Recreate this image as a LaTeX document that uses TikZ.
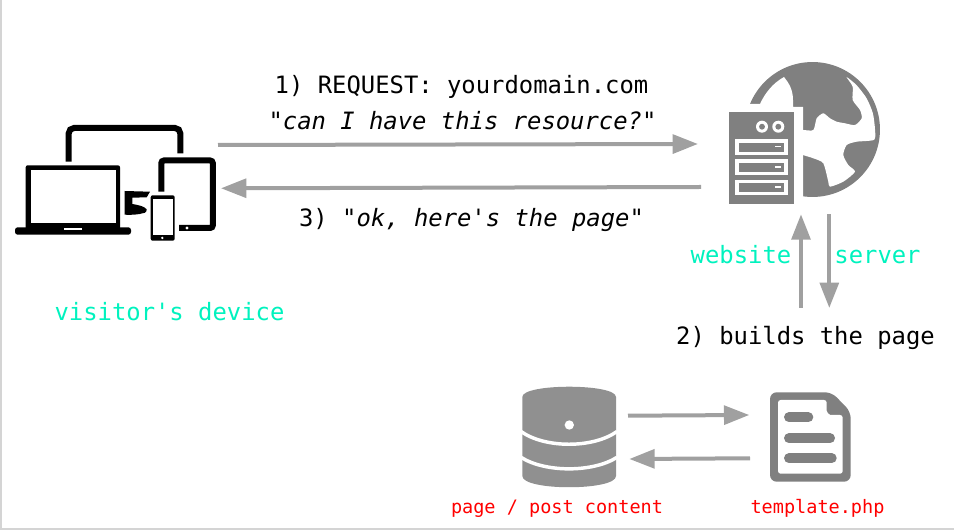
\documentclass[tikz,border=0pt]{standalone}
\usepackage{fontspec}
\setmonofont{DejaVu Sans Mono}
\usepackage{xcolor}
\usetikzlibrary{arrows.meta}
\definecolor{flowgray}{HTML}{A0A0A0}
\definecolor{icongray}{HTML}{808080}
\definecolor{dbgray}{HTML}{909090}
\definecolor{edgegray}{HTML}{D4D4D4}
\definecolor{tealtext}{HTML}{00F2BE}
\definecolor{redtext}{HTML}{FF0000}
\tikzset{
    flow/.style={draw=flowgray, fill=flowgray, line width=3pt, -{Triangle[length=19pt,width=14pt]}},
    label/.style={anchor=base, inner sep=0pt, font=\fontsize{17.9}{20}\selectfont\ttfamily},
    smalllabel/.style={anchor=base, inner sep=0pt, text=redtext, font=\fontsize{13.9}{16}\selectfont\ttfamily},
    bar/.style={draw=icongray, line width=7.5pt, line cap=round}
}

\begin{document}
\begin{tikzpicture}[x=0.75pt, y=-0.75pt]
    \useasboundingbox (0,0) rectangle (954,530);
    \fill[edgegray] (0,0) rectangle (2,530);
    \fill[edgegray] (0,528) rectangle (954,530);

    \draw[line width=4.5pt, rounded corners=4pt] (68.7,161.7) -- (68.7,128) -- (180.3,128) -- (180.3,153.3);
    \fill[rounded corners=1.5pt] (25.7,165.3) rectangle (120,230);
    \fill[white] (30.7,170) rectangle (115.7,223.3);
    \fill[rounded corners=2pt] (15,227.3) rectangle (131,234.7);
    \fill[white] (64.3,227.7) rectangle (81.7,230.3);
    \draw[line width=4.5pt, rounded corners=2pt] (161.3,191.7) -- (161.3,160.5) -- (212.8,160.5) -- (212.8,228) -- (179,228);
    \fill[white] (187,228) circle (1.3pt);
    \fill[rounded corners=1.5pt] (150.7,195.3) rectangle (174.7,240.7);
    \fill[white] (152.7,199) rectangle (173,235.3);
    \fill[white] (162.3,237.9) circle (1pt);
    \fill (124.7,191) -- (150,191.7) -- (146.7,197.3) -- (132.3,197.7) -- (132.3,204)
        .. controls (138,205) and (144,206) .. (146.7,209.3)
        .. controls (147,211) and (146,212) .. (145,212.7)
        .. controls (138,215) and (130,215) .. (124.7,214.7) -- cycle;

    \coordinate (globe) at (812.5,129.5);
    \fill[icongray] (globe) circle (50.6pt);
    \fill[white] plot[smooth cycle, tension=.4] coordinates {
        (846.5,77) (856.7,85.3) (866.6,98.3) (872.9,113.3) (875,129.5) (874.1,139.8)
        (856.7,141.7) (846.7,145) (843.3,155) (848.3,165) (855,171.7) (843.3,181.7)
        (830,186.7) (828.3,181.7) (823.3,163.3) (813.3,158.3) (802.7,155) (795,153)
        (795,130) (803.3,130) (813.3,130) (816.7,118.3) (823.3,113.3) (830,118.3)
        (836.7,121.7) (845,123.3) (855,125) (861.7,118.3) (860,110) (852.7,100) (852.7,86.7)};
    \fill[white] (760,104) .. controls (765,93) and (773,83) .. (784,77)
        .. controls (789,83) and (793,90) .. (793,100) -- (793,107) -- (803,107)
        -- (803,200) -- (725,200) -- (725,104) -- cycle;
    \fill[icongray] (729,112.3) rectangle (793.7,204);
    \fill[white] (762,126.7) circle (4.5pt);
    \fill[white] (778.3,126.7) circle (4.5pt);
    \fill[icongray] (762,126.7) circle (2.2pt);
    \fill[icongray] (778.3,126.7) circle (2.2pt);
    \fill[white] (735,139) rectangle (788.3,155);
    \fill[white] (735,159.3) rectangle (788.3,175.3);
    \fill[white] (735,179.7) rectangle (788.3,195.3);
    \fill[icongray] (739,142.7) rectangle (784.3,151.7);
    \fill[icongray] (739,163) rectangle (784.3,172);
    \fill[icongray] (739,183.4) rectangle (784.3,192.4);
    \fill[white] (775,145.7) rectangle (781,147.3);
    \fill[white] (775,166) rectangle (781,167.6);
    \fill[white] (775,186.4) rectangle (781,188);

    \fill[dbgray] (522.3,397) .. controls (522.3,383.3) and (616,383.3) .. (616,397)
        -- (616,476) .. controls (616,491) and (522.3,491) .. (522.3,476) -- cycle;
    \draw[white, line width=2.6pt] (521,431.5) .. controls (545,448.5) and (593,448.5) .. (617,431.5);
    \draw[white, line width=2.6pt] (521,457.3) .. controls (545,472.7) and (593,472.7) .. (617,457.3);
    \fill[white] (569.3,425) circle (3.5pt);

    \fill[icongray, rounded corners=5pt] (770,392.3) -- (831.7,392.3) -- (850.7,411.7) -- (850.7,481.7) -- (770,481.7) -- cycle;
    \fill[white, rounded corners=2pt] (778,400) -- (826.7,400) -- (826.7,408)
        .. controls (826.7,412) and (829,415) .. (833,415) -- (842.7,415) -- (842.7,473.7) -- (778,473.7) -- cycle;
    \draw[bar] (789,417.3) -- (808.3,417.3);
    \draw[bar] (789,438.3) -- (830,438.3);
    \draw[bar] (789,458.3) -- (831.7,458.3);

    \coordinate (requestStart) at (218,145);
    \coordinate (requestEnd) at (698,144);
    \coordinate (replyStart) at (701,187);
    \coordinate (replyEnd) at (221,188.3);
    \coordinate (buildUpStart) at (801,308);
    \coordinate (buildUpEnd) at (801,214.3);
    \coordinate (buildDownStart) at (829.3,214.3);
    \coordinate (buildDownEnd) at (829.3,308);
    \coordinate (contentStart) at (628,415.7);
    \coordinate (contentEnd) at (749.3,415);
    \coordinate (templateStart) at (750,458.3);
    \coordinate (templateEnd) at (629.3,459);
    \draw[flow] (requestStart) -- (requestEnd);
    \draw[flow] (replyStart) -- (replyEnd);
    \draw[flow] (buildUpStart) -- (buildUpEnd);
    \draw[flow] (buildDownStart) -- (buildDownEnd);
    \draw[flow] (contentStart) -- (contentEnd);
    \draw[flow] (templateStart) -- (templateEnd);

    \node[label] (request) at (461.5,94) {1) REQUEST: yourdomain.com};
    \node[label] (question) at (462.5,130) {\itshape "can I have this resource?"};
    \node[label] (reply) at (471.5,227) {3) {\itshape "ok, here's the page"}};
    \node[label, text=tealtext] (device) at (169.5,320.5) {visitor's device};
    \node[label, text=tealtext] (website) at (741,264) {website};
    \node[label, text=tealtext] (server) at (877.5,264) {server};
    \node[label] (builds) at (805.5,345) {2) builds the page};
    \node[smalllabel] (content) at (557,513.5) {page / post content};
    \node[smalllabel] (template) at (817.5,513.5) {template.php};
\end{tikzpicture}
\end{document}
